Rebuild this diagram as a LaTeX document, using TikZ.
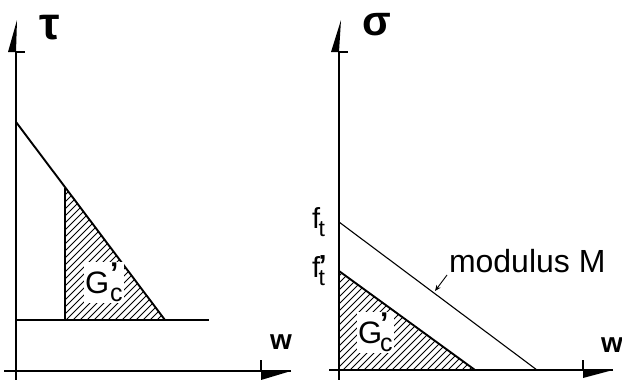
\documentclass[tikz,border=0pt]{standalone}
\usepackage{fontspec}
\setmainfont{Liberation Sans}
\usetikzlibrary{arrows.meta}
\begin{document}
\begin{tikzpicture}[x=1pt,y=-1pt,
  axis/.style={line width=1.4pt},
  curve/.style={line width=1.9pt},
  thinline/.style={line width=1.1pt},
  hatchline/.style={line width=0.9pt},
  lbl/.style={inner sep=0pt, outer sep=0pt},
  greek/.style={lbl, font=\fontsize{46}{46}\bfseries\selectfont},
  wlbl/.style={lbl, font=\fontsize{28}{28}\bfseries\selectfont},
  txt/.style={lbl, font=\fontsize{32}{32}\selectfont},
  flbl/.style={lbl, font=\fontsize{29}{29}\selectfont},
  glbl/.style={lbl, font=\fontsize{31}{31}\selectfont}]
\useasboundingbox (0,0) rectangle (622,380);
\newcommand{\mysub}[1]{\raisebox{-0.28em}{\fontsize{23}{23}\selectfont #1}}
\newcommand{\mygc}[1]{G\kern#1\rlap{\raisebox{0.3em}{\fontsize{30}{30}\bfseries\selectfont ’}}\raisebox{-0.28em}{\fontsize{25}{25}\selectfont c}}

% ---------- left panel ----------
\coordinate (LYtop) at (16,52);
\coordinate (LYbot) at (16,380);
\coordinate (LXl) at (4,371);
\coordinate (LXr) at (291,371);
\coordinate (LXt) at (261,371);
\draw[axis] (LYbot) -- (LYtop);
\fill (8,52) -- (17,20) -- (LYtop) -- cycle;
\draw[axis] (LYtop) -- (25,52);
\draw[axis] (LXl) -- (LXr);
\draw[axis] (LXt) -- (261,360);
\fill (LXt) -- (261,380) -- (LXr) -- cycle;

\coordinate (A) at (16,122);
\coordinate (B) at (65,188);
\coordinate (C) at (165,320);
\coordinate (D) at (65,320);
\coordinate (E) at (16,320);
\coordinate (F) at (209,320);

\begin{scope}
\clip (B) -- (C) -- (D) -- cycle;
\foreach \i in {-140,-133,...,200} \draw[hatchline] (\i,330) -- ++(160,-160);
\end{scope}
\draw[curve] (A) -- (C);
\draw[curve] (E) -- (F);
\draw[curve] (B) -- (D);

\node[greek] (tau) at (50,28) {τ};
\node[wlbl] (wl) at (281,342) {w};
\node[glbl, anchor=base west, fill=white, inner sep=1pt] (gl) at (84,293) {\mygc{1pt}};

% ---------- right panel ----------
\coordinate (RYtop) at (339,52);
\coordinate (RYbot) at (339,380);
\coordinate (RXl) at (329,370);
\coordinate (RXr) at (613,370);
\coordinate (RXt) at (583,370);
\draw[axis] (RYbot) -- (RYtop);
\fill (331,52) -- (341,20) -- (RYtop) -- cycle;
\draw[axis] (RYtop) -- (348,52);
\draw[axis] (RXl) -- (RXr);
\draw[axis] (RXt) -- (583,360);
\fill (RXt) -- (583,378) -- (RXr) -- cycle;

\coordinate (P) at (339,222);
\coordinate (Q) at (537,370);
\coordinate (R) at (339,271);
\coordinate (S) at (475,370);
\coordinate (T) at (339,370);

\begin{scope}
\clip (R) -- (S) -- (T) -- cycle;
\foreach \i in {200,207,...,520} \draw[hatchline] (\i,380) -- ++(200,-200);
\end{scope}
\draw[curve] (R) -- (S);
\draw[thinline] (P) -- (Q);

\node[greek, font=\fontsize{42}{42}\bfseries\selectfont] (sig) at (377,25) {σ};
\node[wlbl] (wr) at (612,345) {w};
\node[glbl, anchor=base west, fill=white, inner sep=1pt] (gr) at (357,343) {\mygc{-2pt}};

\node[flbl, anchor=base west] (ft) at (312,228) {f\kern-1.5pt\mysub{t}};
\node[flbl, anchor=base west] (ftp) at (312,277) {f\kern-1.5pt\rlap{\raisebox{0.05em}{\bfseries ’}}\mysub{t}};

\node[txt, anchor=base west] (mod) at (449,272) {modulus M};
\coordinate (ma) at (447,275);
\coordinate (mb) at (435,291);
\draw[line width=0.9pt, -{Stealth[length=6pt,width=5pt]}] (ma) -- (mb);
\end{tikzpicture}
\end{document}
